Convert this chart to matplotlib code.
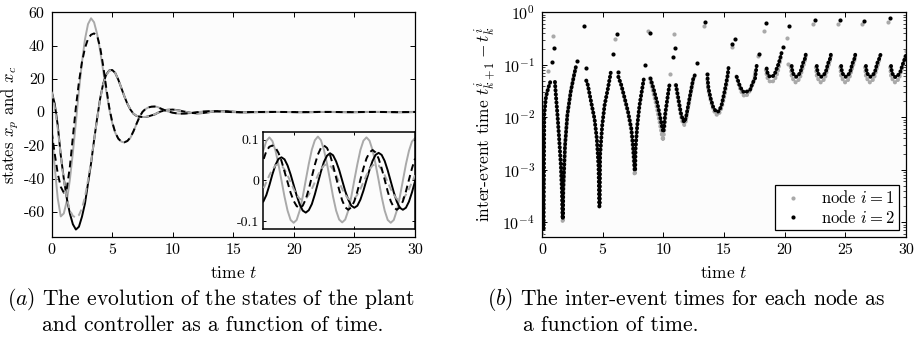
import numpy as np
import matplotlib.pyplot as plt

plt.rcParams.update({
    "font.family": "cmr10",
    "mathtext.fontset": "cm",
    "axes.unicode_minus": False,
    "axes.formatter.use_mathtext": False,
    "axes.linewidth": 0.9,
})

GREY = "#a9a9a9"

# ---------------- (a) plant / controller states ----------------
# time grid: fine at the start, coarse in the middle, fine again for the inset
t_early = np.arange(0.0, 9.01, 0.25)
t_mid = np.arange(9.5, 17.01, 0.5)
t_tail = np.arange(17.5, 30.01, 0.25)

xp_solid_early = [-10, -33, -52, -62.8, -61, -53.5, -40.8, -24.4, -6.0, 12.8, 29.9, 43.8, 52.9,
                  56.4, 54, 47, 37, 25, 13, 2, -6.5, -12.5, -16, -17.8, -18.3, -17.5, -15.5, -11.8,
                  -7.3, -3.0, 0.0, 1.8, 2.8, 3.3, 3.4, 3.0, 2.2]
xp_solid_mid = [0.6, -0.5, -1.0, -1.0, -0.6, -0.1, 0.3, 0.5, 0.5, 0.3, 0.1, -0.1, -0.15, -0.1, 0.0, 0.05]
xp_solid_tail = [0.074, 0.097, 0.106, 0.097, 0.074, 0.040, 0.000, -0.040, -0.074, -0.097, -0.104,
                 -0.097, -0.074, -0.040, 0.001, 0.041, 0.076, 0.099, 0.108,
                 0.099, 0.075, 0.041, 0.001, -0.040, -0.074, -0.096, -0.103,
                 -0.096, -0.074, -0.040, 0.001, 0.040, 0.075, 0.098, 0.106,
                 0.098, 0.075, 0.040, 0.001, -0.040, -0.074, -0.097, -0.104,
                 -0.097, -0.074, -0.040, 0.000, 0.040, 0.073, 0.096, 0.104]

xp_dashed_early = [-12, -25, -37, -45, -48.5, -46, -33, -15, 3, 18, 30, 38.5, 44, 46.5, 47.3, 46,
                   39, 28, 15, 3, -6, -12.3, -16, -17.8, -18.2, -17.4, -15.3, -11.6, -7.2, -3.0,
                   0.1, 1.9, 2.8, 3.2, 3.3, 2.9, 2.1]
xp_dashed_mid = [0.6, -0.4, -1.0, -0.9, -0.6, -0.1, 0.3, 0.5, 0.45, 0.3, 0.1, -0.1, -0.15, -0.1, 0.0, 0.04]
xp_dashed_tail = [0.050, 0.072, 0.083, 0.086, 0.081, 0.068, 0.048, 0.022, -0.004, -0.030, -0.050,
                  -0.063, -0.068, -0.062, -0.046, -0.021, 0.009, 0.039, 0.064,
                  0.080, 0.086, 0.080, 0.063, 0.037, 0.007, -0.023, -0.049,
                  -0.066, -0.072, -0.066, -0.051, -0.027, 0.002, 0.030, 0.054,
                  0.069, 0.075, 0.069, 0.054, 0.030, 0.002, -0.027, -0.051,
                  -0.066, -0.072, -0.066, -0.051, -0.027, 0.002, 0.030, 0.054]

xc_solid_early = [12.2, 5, -8, -26, -40, -52, -61, -67.5, -70.7, -69, -63, -55, -43, -31, -17, -4,
                  8, 17, 22.5, 25, 25.3, 23.5, 19.5, 14.5, 9.5, 5, 1.5, -1, -2.3, -2.8, -3.0, -3.0,
                  -2.6, -2.0, -1.5, -0.5, 0.3]
xc_solid_mid = [1.3, 1.5, 1.0, 0.2, -0.5, -0.8, -0.6, -0.1, 0.4, 0.6, 0.5, 0.2, -0.05, -0.15, -0.1, -0.05]
xc_solid_tail = [-0.052, -0.036, -0.012, 0.015, 0.038, 0.053, 0.057, 0.052, 0.037, 0.015, -0.011,
                 -0.037, -0.059, -0.074, -0.079, -0.073, -0.058, -0.034, -0.006,
                 0.022, 0.046, 0.061, 0.067, 0.062, 0.047, 0.026, 0.000,
                 -0.026, -0.047, -0.062, -0.067, -0.062, -0.047, -0.025, 0.001,
                 0.026, 0.048, 0.063, 0.068, 0.063, 0.048, 0.025, -0.002,
                 -0.029, -0.052, -0.067, -0.072, -0.067, -0.052, -0.029, -0.002]

xc_dashed_early = [12.2, 3, -10, -26, -41, -52, -59, -62.5, -63.5, -62, -58, -51, -41, -30, -17,
                   -4.5, 7.5, 16.5, 22, 24.8, 25.2, 23.5, 19.6, 14.6, 9.6, 5.1, 1.6, -0.9, -2.2,
                   -2.8, -3.0, -2.9, -2.6, -2.0, -1.4, -0.5, 0.3]
xc_dashed_mid = [1.2, 1.4, 0.9, 0.2, -0.5, -0.7, -0.5, -0.1, 0.35, 0.5, 0.4, 0.15, -0.05, -0.12, -0.08, -0.04]
xc_dashed_tail = [-0.021, -0.004, 0.013, 0.027, 0.037, 0.040, 0.037, 0.027, 0.013, -0.004, -0.021,
                  -0.035, -0.045, -0.048, -0.045, -0.035, -0.021, -0.004, 0.013,
                  0.027, 0.037, 0.040, 0.037, 0.027, 0.013, -0.004, -0.021,
                  -0.035, -0.045, -0.048, -0.045, -0.035, -0.021, -0.004, 0.013,
                  0.027, 0.037, 0.040, 0.037, 0.027, 0.013, -0.004, -0.021,
                  -0.035, -0.045, -0.048, -0.045, -0.035, -0.021, -0.004, 0.013]

# ---------------- (b) inter-event times ----------------
# dense runs of events, given as (t, t_{k+1}-t_k) knots along each run
node1_runs = [
    [(0.01, 6e-5), (0.02, 1e-3), (0.03, 3.9e-3), (0.10, 1.0e-2), (0.25, 2.0e-2), (0.45, 3.3e-2),
     (0.60, 4.1e-2), (0.68, 4.8e-2)],
    [(1.05, 4.7e-2), (1.13, 2.6e-2), (1.26, 1.1e-2), (1.40, 3.9e-3), (1.54, 1.2e-3), (1.64, 3.7e-4),
     (1.70, 1.0e-4), (1.72, 1.0e-4), (1.76, 4.3e-4), (1.90, 2.9e-3), (2.09, 1.1e-2), (2.36, 3.0e-2),
     (2.64, 6.3e-2), (2.80, 9.0e-2)],
    [(3.65, 5.0e-2), (3.78, 4.1e-2), (4.05, 1.95e-2), (4.33, 9.3e-3), (4.52, 3.9e-3), (4.66, 1.2e-3),
     (4.73, 2.0e-4), (4.75, 2.0e-4), (4.79, 1.9e-3), (4.96, 6.9e-3), (5.16, 1.7e-2), (5.43, 3.5e-2),
     (5.63, 6.3e-2)],
    [(6.28, 5.9e-2), (6.52, 4.0e-2), (6.80, 2.2e-2), (7.08, 1.2e-2), (7.35, 5.5e-3), (7.48, 2.6e-3),
     (7.58, 1.2e-3), (7.63, 8.0e-4), (7.67, 8.0e-4), (7.70, 2.3e-3), (7.84, 6.5e-3), (8.02, 1.6e-2),
     (8.24, 3.3e-2), (8.38, 5.2e-2)],
    [(8.88, 5.5e-2), (9.12, 3.3e-2), (9.42, 1.7e-2), (9.67, 8.5e-3), (9.85, 5.0e-3), (9.97, 3.6e-3),
     (10.06, 5.0e-3), (10.20, 1.2e-2), (10.40, 2.8e-2), (10.52, 4.5e-2)],
    [(11.00, 4.1e-2), (11.20, 2.2e-2), (11.45, 1.05e-2), (11.60, 7.8e-3), (11.73, 7.1e-3),
     (11.85, 8.3e-3), (12.00, 1.3e-2), (12.20, 2.4e-2), (12.47, 5.0e-2), (12.62, 6.5e-2)],
    [(13.62, 5.2e-2), (13.70, 3.3e-2), (13.90, 2.1e-2), (14.10, 1.45e-2), (14.30, 1.15e-2),
     (14.45, 1.1e-2), (14.60, 1.17e-2), (14.80, 1.5e-2), (15.00, 2.3e-2), (15.20, 4.0e-2),
     (15.35, 7.0e-2)],
    [(16.02, 6.0e-2), (16.30, 3.6e-2), (16.50, 2.8e-2), (16.70, 2.5e-2), (16.90, 2.65e-2),
     (17.10, 3.1e-2), (17.35, 4.2e-2), (17.50, 5.5e-2), (17.62, 8.5e-2)],
    [(18.45, 8.0e-2), (18.55, 5.8e-2), (18.72, 4.9e-2), (18.92, 4.6e-2), (19.12, 5.0e-2),
     (19.32, 6.0e-2), (19.48, 8.0e-2), (19.60, 1.1e-1), (19.72, 1.5e-1)],
    [(20.50, 9.0e-2), (20.58, 6.0e-2), (20.75, 5.0e-2), (20.90, 4.6e-2), (21.06, 4.8e-2),
     (21.26, 5.6e-2), (21.46, 8.2e-2), (21.64, 1.1e-1), (21.74, 1.45e-1)],
    [(22.57, 9.0e-2), (22.65, 6.0e-2), (22.82, 5.0e-2), (22.97, 4.6e-2), (23.13, 4.8e-2),
     (23.33, 5.6e-2), (23.53, 8.2e-2), (23.71, 1.1e-1), (23.81, 1.45e-1)],
    [(24.58, 9.0e-2), (24.66, 6.0e-2), (24.83, 5.0e-2), (24.98, 4.6e-2), (25.14, 4.8e-2),
     (25.34, 5.6e-2), (25.54, 8.2e-2), (25.72, 1.1e-1), (25.82, 1.45e-1)],
    [(26.62, 9.0e-2), (26.70, 6.0e-2), (26.87, 5.0e-2), (27.02, 4.6e-2), (27.18, 4.8e-2),
     (27.38, 5.6e-2), (27.58, 8.2e-2), (27.76, 1.1e-1), (27.86, 1.45e-1)],
    [(28.69, 9.0e-2), (28.77, 6.0e-2), (28.94, 5.0e-2), (29.09, 4.6e-2), (29.25, 4.8e-2),
     (29.45, 5.6e-2), (29.65, 8.2e-2), (29.83, 1.1e-1), (29.95, 1.6e-1)],
]
node2_runs = [
    [(0.02, 4.0e-3), (0.06, 1.0e-3), (0.09, 2.0e-4), (0.11, 7.0e-5), (0.13, 7.0e-5), (0.15, 3.0e-4),
     (0.17, 2.0e-3), (0.19, 1.1e-2), (0.33, 2.45e-2), (0.55, 3.8e-2), (0.72, 5.0e-2)],
    [(1.07, 4.7e-2), (1.15, 2.6e-2), (1.28, 1.1e-2), (1.42, 3.9e-3), (1.56, 1.2e-3), (1.65, 3.7e-4),
     (1.70, 1.15e-4), (1.72, 1.15e-4), (1.76, 4.3e-4), (1.90, 2.9e-3), (2.09, 1.1e-2), (2.36, 3.0e-2),
     (2.64, 6.3e-2), (2.83, 1.0e-1)],
    [(3.65, 5.0e-2), (3.78, 4.1e-2), (4.05, 1.95e-2), (4.33, 9.3e-3), (4.52, 3.9e-3), (4.66, 1.2e-3),
     (4.73, 2.0e-4), (4.75, 2.0e-4), (4.79, 1.9e-3), (4.96, 6.9e-3), (5.16, 1.7e-2), (5.43, 3.5e-2),
     (5.63, 6.3e-2), (5.71, 8.1e-2)],
    [(6.30, 5.9e-2), (6.54, 4.1e-2), (6.82, 2.3e-2), (7.10, 1.26e-2), (7.37, 6.0e-3), (7.50, 2.9e-3),
     (7.60, 1.4e-3), (7.65, 9.5e-4), (7.68, 9.5e-4), (7.71, 2.5e-3), (7.85, 6.9e-3), (8.04, 1.7e-2),
     (8.26, 3.5e-2), (8.40, 5.5e-2)],
    [(8.95, 5.5e-2), (9.20, 3.5e-2), (9.50, 1.9e-2), (9.75, 1.0e-2), (9.90, 6.5e-3), (10.00, 5.2e-3),
     (10.08, 7.0e-3), (10.14, 1.1e-2), (10.41, 3.0e-2), (10.55, 4.7e-2)],
    [(11.05, 4.1e-2), (11.24, 2.3e-2), (11.45, 1.2e-2), (11.60, 9.0e-3), (11.73, 8.1e-3),
     (11.85, 9.5e-3), (12.00, 1.45e-2), (12.20, 2.6e-2), (12.47, 5.5e-2), (12.66, 6.8e-2)],
    [(13.65, 5.5e-2), (13.72, 3.6e-2), (13.90, 2.3e-2), (14.10, 1.6e-2), (14.30, 1.32e-2),
     (14.45, 1.26e-2), (14.60, 1.32e-2), (14.80, 1.7e-2), (15.07, 3.3e-2), (15.30, 6.3e-2),
     (15.40, 9.8e-2)],
    [(16.05, 5.9e-2), (16.30, 4.0e-2), (16.50, 3.2e-2), (16.70, 2.95e-2), (16.90, 3.1e-2),
     (17.15, 3.3e-2), (17.35, 4.4e-2), (17.56, 5.5e-2), (17.70, 9.8e-2)],
    [(18.52, 8.5e-2), (18.60, 6.8e-2), (18.75, 6.0e-2), (18.95, 5.9e-2), (19.15, 6.4e-2),
     (19.35, 8.5e-2), (19.50, 1.05e-1), (19.62, 1.3e-1), (19.75, 1.7e-1)],
    [(20.58, 9.5e-2), (20.65, 7.2e-2), (20.80, 6.2e-2), (20.94, 5.9e-2), (21.10, 6.2e-2),
     (21.30, 7.2e-2), (21.50, 1.07e-1), (21.68, 1.32e-1), (21.77, 1.7e-1)],
    [(22.65, 9.5e-2), (22.72, 7.2e-2), (22.87, 6.2e-2), (23.02, 5.9e-2), (23.18, 6.2e-2),
     (23.38, 7.2e-2), (23.58, 1.07e-1), (23.75, 1.32e-1), (23.84, 1.7e-1)],
    [(24.66, 9.5e-2), (24.73, 7.2e-2), (24.88, 6.2e-2), (25.03, 5.9e-2), (25.19, 6.2e-2),
     (25.39, 7.2e-2), (25.59, 1.07e-1), (25.76, 1.32e-1), (25.85, 1.7e-1)],
    [(26.70, 9.5e-2), (26.77, 7.2e-2), (26.92, 6.2e-2), (27.07, 5.9e-2), (27.23, 6.2e-2),
     (27.43, 7.2e-2), (27.63, 1.07e-1), (27.80, 1.32e-1), (27.90, 1.55e-1)],
    [(28.77, 9.5e-2), (28.84, 7.2e-2), (28.99, 6.0e-2), (29.15, 5.8e-2), (29.32, 6.2e-2),
     (29.52, 7.2e-2), (29.72, 1.0e-1), (29.90, 1.3e-1), (30.00, 1.5e-1)],
]

# isolated events (long inter-event times)
node1_t = [0.47, 0.93, 6.04, 8.75, 10.55, 10.90, 13.38, 15.63, 17.80, 18.30, 20.17, 20.30,
           22.30, 24.40, 26.40, 28.50, 29.98]
node1_tau = [7.7e-2, 0.35, 0.31, 0.44, 6.8e-2, 0.38, 0.54, 0.22, 0.15, 0.44, 0.32, 0.105,
             0.59, 0.59, 0.59, 0.66, 0.18]
node2_t = [0.80, 1.03, 2.91, 3.49, 3.60, 5.85, 6.20, 6.27, 8.51, 8.88, 10.77, 10.96, 12.80,
           13.44, 13.60, 15.69, 15.91, 17.85, 18.47, 19.90, 20.39, 22.50, 24.57, 26.57, 28.69]
node2_tau = [0.115, 0.21, 0.117, 0.56, 0.085, 0.16, 0.39, 0.074, 0.10, 0.40, 0.14, 0.21, 0.107,
             0.65, 0.068, 0.245, 0.31, 0.16, 0.63, 0.22, 0.55, 0.72, 0.71, 0.69, 0.79]


t_all = np.concatenate([t_early, t_mid, t_tail])
xp_solid = np.concatenate([xp_solid_early, xp_solid_mid, xp_solid_tail])
xp_dashed = np.concatenate([xp_dashed_early, xp_dashed_mid, xp_dashed_tail])
xc_solid = np.concatenate([xc_solid_early, xc_solid_mid, xc_solid_tail])
xc_dashed = np.concatenate([xc_dashed_early, xc_dashed_mid, xc_dashed_tail])

fig = plt.figure(figsize=(9.18, 3.37), dpi=100)
ax1 = fig.add_axes([0.0563, 0.2976, 0.3957, 0.6659])
axin = fig.add_axes([0.2868, 0.3196, 0.1653, 0.2896])
ax2 = fig.add_axes([0.5904, 0.2976, 0.3965, 0.6659])

for ax in (ax1, axin):
    ax.set_facecolor("#fcfcfc")
    ax.plot(t_all, xp_solid, color=GREY, lw=1.4, zorder=2)
    ax.plot(t_all, xc_solid, color="black", lw=1.4, zorder=3)
    ax.plot(t_all, xc_dashed, color=GREY, lw=1.4, dashes=(3.5, 2.2), zorder=4)
    ax.plot(t_all, xp_dashed, color="black", lw=1.4, dashes=(3.5, 2.2), zorder=5)
    ax.tick_params(direction="in", top=True, right=True, length=3.5, width=0.7)

ax1.set_xlim(0, 30)
ax1.set_ylim(-75, 60)
ax1.set_xticks(range(0, 31, 5))
ax1.set_yticks(range(-60, 61, 20))
ax1.tick_params(labelsize=11.5, pad=5)
ax1.set_xlabel(r"time $t$", fontsize=12.5)
ax1.set_ylabel(r"states $x_p$ and $x_c$", fontsize=12)
ax1.xaxis.set_label_coords(0.5, -0.125)
ax1.yaxis.set_label_coords(-0.085, 0.5)

axin.set_xlim(17.5, 30)
axin.set_ylim(-0.12, 0.12)
axin.set_xticks([20, 25])
axin.set_yticks([-0.1, 0, 0.1])
axin.set_yticklabels(["-0.1", "0", "0.1"])
axin.tick_params(labelbottom=False, labelsize=10, length=2.5, pad=3)
for s in axin.spines.values():
    s.set_linewidth(1.1)

# right panel
ax2.set_facecolor("#fcfcfc")
ax2.set_yscale("log")
for run in node1_runs:
    tt, tau = zip(*run)
    ax2.plot(tt, tau, color=GREY, lw=2.8, ls=(0, (0.1, 0.95)), dash_capstyle="round", zorder=2)
ax2.plot(node1_t, node1_tau, "o", color=GREY, ms=3.0, mec="none", zorder=2, label=r"node $i=1$")
for run in node2_runs:
    tt, tau = zip(*run)
    ax2.plot(tt, tau, color="black", lw=2.8, ls=(0, (0.1, 0.95)), dash_capstyle="round", zorder=3)
ax2.plot(node2_t, node2_tau, "o", color="black", ms=3.0, mec="none", zorder=3, label=r"node $i=2$")

ax2.set_xlim(0, 30)
ax2.set_ylim(5.3e-5, 1)
ax2.set_xticks(range(0, 31, 5))
ax2.set_yticks([1e-4, 1e-3, 1e-2, 1e-1, 1e0])
ax2.tick_params(which="both", direction="in", top=True, right=True)
ax2.tick_params(which="major", length=3.5, width=0.7, labelsize=11.5, pad=5)
ax2.tick_params(which="minor", length=2, width=0.5)
ax2.set_xlabel(r"time $t$", fontsize=12.5)
ax2.set_ylabel(r"inter-event time $t^i_{k+1}-t^i_k$", fontsize=12.5)
ax2.xaxis.set_label_coords(0.5, -0.125)
ax2.yaxis.set_label_coords(-0.12, 0.5)

leg = ax2.legend(loc="lower right", fontsize=12, frameon=True, fancybox=False,
                 edgecolor="black", framealpha=1, borderaxespad=0.4, handlelength=1.6,
                 handletextpad=0.9, borderpad=0.25, labelspacing=0.15, markerscale=1.0)
leg.get_frame().set_linewidth(0.9)

# captions
fig.text(0.0076, 0.11, r"$\it{(a)}$ The evolution of the states of the plant", fontsize=15.5, va="center")
fig.text(0.0458, 0.036, "and controller as a function of time.", fontsize=15.5, va="center")
fig.text(0.5305, 0.11, r"$\it{(b)}$ The inter-event times for each node as", fontsize=15.5, va="center")
fig.text(0.5697, 0.036, "a function of time.", fontsize=15.5, va="center")

fig.savefig("out.png", dpi=100)
